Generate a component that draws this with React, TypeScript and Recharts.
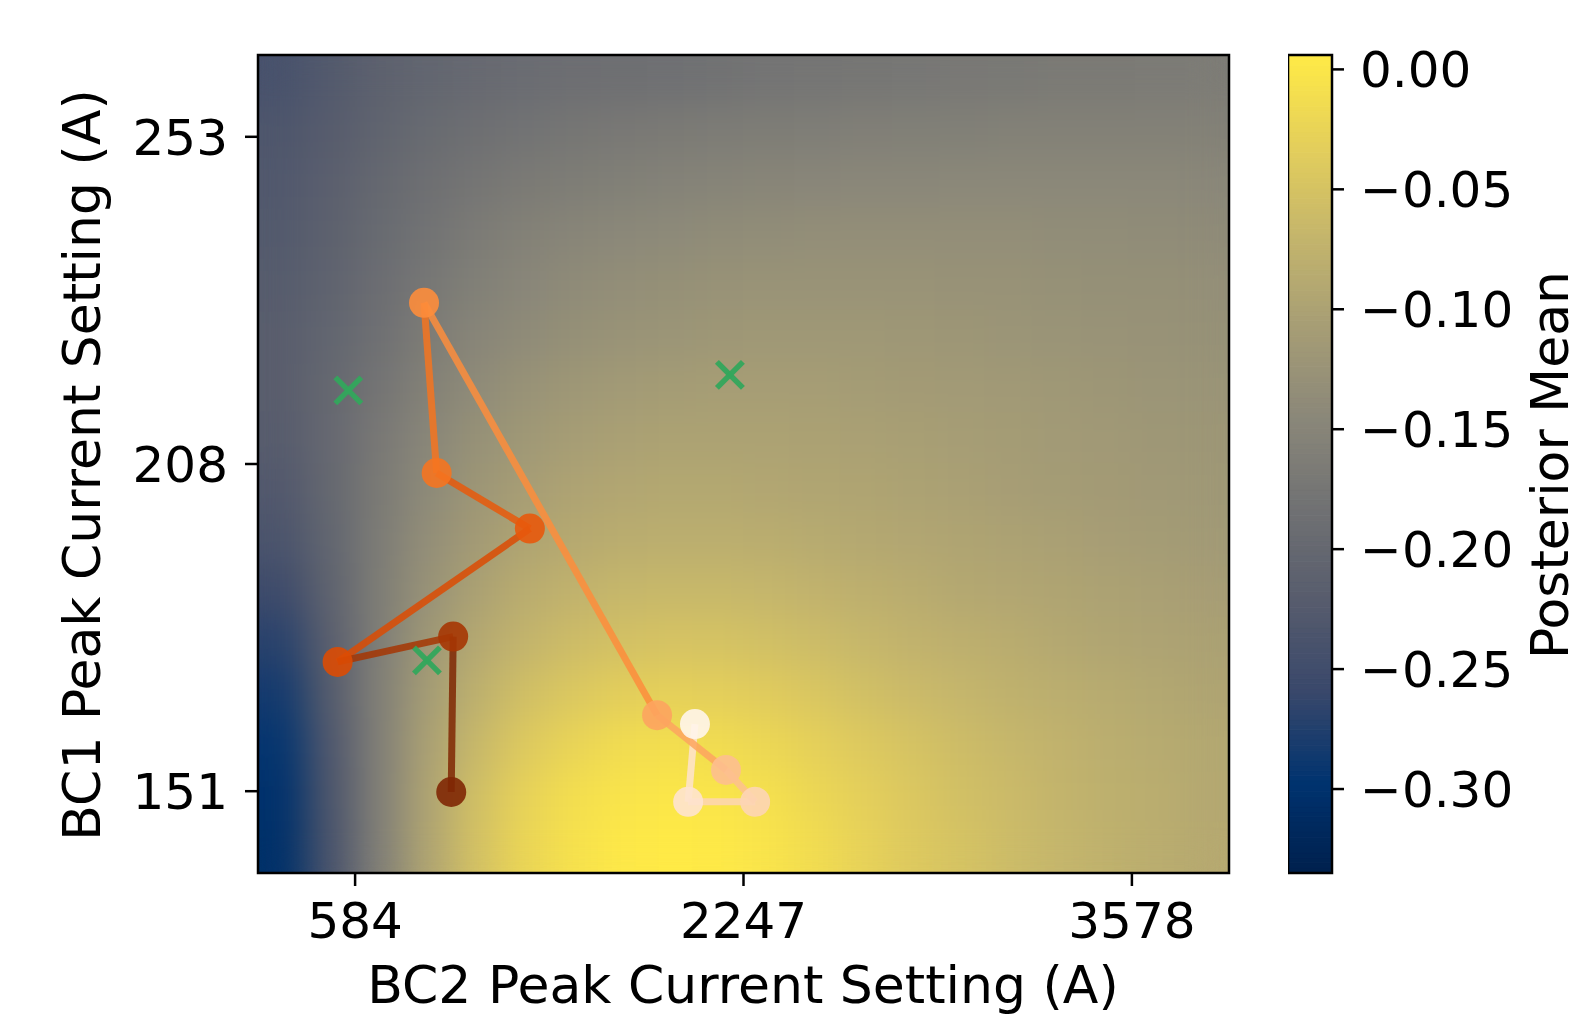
import React from 'react';
import { ComposedChart, XAxis, YAxis, Scatter, ReferenceArea } from 'recharts';

// ---------- data ----------
const xTickPositions = [0.1, 0.5, 0.9];
const xTickLabels = ['584', '2247', '3578'];
const yTickPositions = [0.1, 0.5, 0.9];
const yTickLabels = ['151', '208', '253'];

const colorbarTicks = [0, -0.05, -0.1, -0.15, -0.2, -0.25, -0.3];
const colorbarMin = -0.335;
const colorbarMax = 0.006;

// optimisation trajectory (normalised coordinates), in order of evaluation
const trajectoryX = [0.45, 0.443, 0.512, 0.482, 0.411, 0.171, 0.184, 0.28, 0.082, 0.201, 0.199];
const trajectoryY = [0.182, 0.087, 0.087, 0.126, 0.193, 0.697, 0.489, 0.421, 0.258, 0.289, 0.099];
const trajectoryColors = ['#fff5eb', '#fee3cf', '#fdd5b5', '#fdbf8f', '#fda45f', '#fd8d3c', '#f57420', '#e8590c', '#dc4b03', '#a63603', '#7f2704'];

// initial samples (green crosses)
const initialX = [0.093, 0.486, 0.174];
const initialY = [0.59, 0.609, 0.26];

// posterior mean on a 20 x 16 grid, top row first
const posteriorMean: number[][] = [
  [-0.240, -0.226, -0.212, -0.204, -0.197, -0.192, -0.188, -0.187, -0.185, -0.182, -0.178, -0.176, -0.175, -0.173, -0.171, -0.170, -0.168, -0.168, -0.166, -0.165],
  [-0.233, -0.221, -0.207, -0.195, -0.187, -0.180, -0.175, -0.171, -0.168, -0.165, -0.163, -0.161, -0.159, -0.158, -0.158, -0.156, -0.156, -0.156, -0.156, -0.156],
  [-0.229, -0.216, -0.200, -0.187, -0.176, -0.168, -0.163, -0.158, -0.154, -0.151, -0.149, -0.147, -0.146, -0.146, -0.144, -0.144, -0.144, -0.144, -0.144, -0.146],
  [-0.226, -0.212, -0.195, -0.180, -0.166, -0.156, -0.149, -0.144, -0.141, -0.137, -0.136, -0.134, -0.134, -0.134, -0.134, -0.134, -0.136, -0.136, -0.137, -0.139],
  [-0.222, -0.209, -0.190, -0.173, -0.158, -0.147, -0.139, -0.134, -0.130, -0.127, -0.125, -0.125, -0.125, -0.125, -0.127, -0.127, -0.129, -0.130, -0.130, -0.132],
  [-0.219, -0.204, -0.185, -0.165, -0.149, -0.139, -0.130, -0.125, -0.122, -0.118, -0.117, -0.117, -0.117, -0.118, -0.120, -0.122, -0.124, -0.125, -0.127, -0.129],
  [-0.219, -0.200, -0.178, -0.156, -0.139, -0.127, -0.118, -0.113, -0.110, -0.108, -0.108, -0.108, -0.110, -0.112, -0.113, -0.115, -0.117, -0.120, -0.122, -0.124],
  [-0.221, -0.199, -0.171, -0.147, -0.129, -0.117, -0.108, -0.103, -0.100, -0.100, -0.100, -0.101, -0.103, -0.105, -0.108, -0.110, -0.113, -0.115, -0.118, -0.120],
  [-0.228, -0.200, -0.168, -0.141, -0.120, -0.107, -0.098, -0.093, -0.091, -0.091, -0.093, -0.095, -0.096, -0.100, -0.103, -0.107, -0.110, -0.112, -0.115, -0.117],
  [-0.236, -0.204, -0.165, -0.134, -0.112, -0.096, -0.088, -0.083, -0.081, -0.081, -0.083, -0.086, -0.090, -0.093, -0.096, -0.100, -0.103, -0.107, -0.110, -0.113],
  [-0.253, -0.209, -0.163, -0.127, -0.101, -0.084, -0.074, -0.067, -0.066, -0.066, -0.069, -0.074, -0.079, -0.084, -0.090, -0.093, -0.096, -0.100, -0.103, -0.107],
  [-0.270, -0.216, -0.161, -0.118, -0.090, -0.071, -0.059, -0.052, -0.049, -0.050, -0.054, -0.060, -0.067, -0.074, -0.079, -0.084, -0.090, -0.095, -0.098, -0.101],
  [-0.284, -0.222, -0.159, -0.110, -0.078, -0.055, -0.042, -0.033, -0.030, -0.032, -0.037, -0.045, -0.054, -0.062, -0.069, -0.076, -0.081, -0.086, -0.091, -0.096],
  [-0.294, -0.229, -0.159, -0.103, -0.066, -0.040, -0.025, -0.014, -0.011, -0.013, -0.020, -0.030, -0.040, -0.050, -0.059, -0.067, -0.074, -0.081, -0.086, -0.091],
  [-0.301, -0.233, -0.159, -0.098, -0.055, -0.028, -0.011, -0.003, 0.001, -0.001, -0.008, -0.020, -0.032, -0.043, -0.054, -0.062, -0.071, -0.078, -0.083, -0.090],
  [-0.304, -0.236, -0.159, -0.096, -0.052, -0.023, -0.006, 0.003, 0.006, 0.004, -0.003, -0.014, -0.028, -0.040, -0.050, -0.060, -0.069, -0.076, -0.083, -0.088],
];

// ---------- styles ----------
const FONT = 'DejaVu Sans, Verdana, sans-serif';
const CIVIDIS = ['#00204D', '#00336F', '#39486B', '#575C6D', '#707173', '#8A8779', '#A69D75', '#C4B56C', '#E4CF5B', '#FFEA46'];

const hexToRgb = (h: string) => [parseInt(h.slice(1, 3), 16), parseInt(h.slice(3, 5), 16), parseInt(h.slice(5, 7), 16)];
const cividisAt = (tIn: number) => {
  const t = Math.max(0, Math.min(1, tIn));
  const s = t * (CIVIDIS.length - 1);
  const i = Math.min(CIVIDIS.length - 2, Math.floor(s));
  const f = s - i;
  const a = hexToRgb(CIVIDIS[i]);
  const b = hexToRgb(CIVIDIS[i + 1]);
  const c = a.map((av, k) => Math.round(av + (b[k] - av) * f));
  return `rgb(${c[0]},${c[1]},${c[2]})`;
};
const cividis = (v: number) => cividisAt((v - colorbarMin) / (colorbarMax - colorbarMin));

const nRows = posteriorMean.length;
const nCols = posteriorMean[0].length;
const cells = posteriorMean.flatMap((row, r) =>
  row.map((v, c) => ({
    x1: c / nCols,
    x2: (c + 1) / nCols,
    y1: 1 - (r + 1) / nRows,
    y2: 1 - r / nRows,
    v,
  }))
);

// colour-bar slices (the colour scale itself, split into thin bands)
const COLORBAR_STEPS = 160;
const colorbarSlices = Array.from({ length: COLORBAR_STEPS }, (_, i) => ({
  y1: colorbarMin + ((colorbarMax - colorbarMin) * i) / COLORBAR_STEPS,
  y2: colorbarMin + ((colorbarMax - colorbarMin) * (i + 1)) / COLORBAR_STEPS,
  color: cividisAt((i + 0.5) / COLORBAR_STEPS),
}));

const trajectory = trajectoryX.map((x, i) => ({ x, y: trajectoryY[i], step: i }));
const segments = trajectory.slice(1).map((p, i) => ({ data: [trajectory[i], p], color: trajectoryColors[i + 1] }));
const initialPoints = initialX.map((x, i) => ({ x, y: initialY[i] }));

const renderNothing = () => <g />;
const renderPoint = (props: any) => (
  <circle cx={props.cx} cy={props.cy} r={15} fill={trajectoryColors[props.payload.step]} fillOpacity={0.9} />
);
const renderCross = (props: any) => {
  const { cx, cy } = props;
  const h = 13;
  return (
    <g stroke="#33a65c" strokeWidth={5.5} strokeOpacity={0.95}>
      <line x1={cx - h} y1={cy - h} x2={cx + h} y2={cy + h} />
      <line x1={cx - h} y1={cy + h} x2={cx + h} y2={cy - h} />
    </g>
  );
};

const tickStyle = { fill: '#000', fontSize: 50, fontFamily: FONT };
const tickLineStyle = { stroke: '#000', strokeWidth: 2.5 };

export default function App() {
  return (
    <div style={{ position: 'absolute', left: 0, top: 0, width: 1569, height: 1017, background: '#fff', overflow: 'hidden' }}>
      <svg width={0} height={0} style={{ position: 'absolute' }}>
        <defs>
          <filter id="heatSmooth" x="0" y="0" width="1" height="1" colorInterpolationFilters="sRGB">
            <feGaussianBlur stdDeviation="18" />
            <feComponentTransfer>
              <feFuncA type="linear" slope="0" intercept="1" />
            </feComponentTransfer>
          </filter>
        </defs>
      </svg>

      {/* heatmap */}
      <div style={{ position: 'absolute', left: 258, top: 55, width: 971, height: 818, filter: 'url(#heatSmooth)' }}>
        <ComposedChart width={971} height={818} margin={{ top: 0, right: 0, bottom: 0, left: 0 }}>
          <XAxis type="number" dataKey="x" domain={[0, 1]} hide allowDataOverflow />
          <YAxis type="number" dataKey="y" domain={[0, 1]} hide allowDataOverflow />
          {cells.map((c, i) => (
            <ReferenceArea
              key={i}
              x1={c.x1}
              x2={c.x2}
              y1={c.y1}
              y2={c.y2}
              fill={cividis(c.v)}
              fillOpacity={1}
              stroke={cividis(c.v)}
              strokeWidth={1}
              ifOverflow="visible"
            />
          ))}
        </ComposedChart>
      </div>

      {/* colorbar */}
      <div style={{ position: 'absolute', left: 1288, top: 0 }}>
        <ComposedChart width={281} height={1017} margin={{ top: 55, right: 37, bottom: 144, left: 0 }}>
          <XAxis type="number" dataKey="x" domain={[0, 1]} hide allowDataOverflow />
          <YAxis
            type="number"
            dataKey="y"
            orientation="right"
            domain={[colorbarMin, colorbarMax]}
            ticks={colorbarTicks}
            interval={0}
            width={200}
            axisLine={false}
            tickLine={tickLineStyle}
            tickSize={12}
            tickMargin={16}
            tick={tickStyle}
            tickFormatter={(v: number) => (v === 0 ? '0.00' : '\u2212' + Math.abs(v).toFixed(2))}
            allowDataOverflow
          />
          {colorbarSlices.map((s, i) => (
            <ReferenceArea
              key={i}
              x1={0}
              x2={1}
              y1={s.y1}
              y2={s.y2}
              fill={s.color}
              fillOpacity={1}
              stroke={s.color}
              strokeWidth={1}
              ifOverflow="visible"
            />
          ))}
          <ReferenceArea
            x1={0}
            x2={1}
            y1={colorbarMin}
            y2={colorbarMax}
            fill="none"
            fillOpacity={0}
            stroke="#000"
            strokeWidth={2.5}
            ifOverflow="visible"
          />
        </ComposedChart>
      </div>

      {/* axes, trajectory, markers */}
      <div style={{ position: 'absolute', left: 0, top: 0 }}>
        <ComposedChart width={1569} height={1017} margin={{ top: 55, right: 340, bottom: 44, left: 158 }}>
          <XAxis
            type="number"
            dataKey="x"
            domain={[0, 1]}
            ticks={xTickPositions}
            interval={0}
            tickFormatter={(v: number) => xTickLabels[xTickPositions.indexOf(v)]}
            height={100}
            axisLine={false}
            tickLine={tickLineStyle}
            tickSize={13}
            tickMargin={16}
            tick={tickStyle}
            allowDataOverflow
          />
          <YAxis
            type="number"
            dataKey="y"
            domain={[0, 1]}
            ticks={yTickPositions}
            interval={0}
            tickFormatter={(v: number) => yTickLabels[yTickPositions.indexOf(v)]}
            width={100}
            axisLine={false}
            tickLine={tickLineStyle}
            tickSize={13}
            tickMargin={17}
            tick={tickStyle}
            allowDataOverflow
          />
          <ReferenceArea x1={0} x2={1} y1={0} y2={1} fill="none" fillOpacity={0} stroke="#000" strokeWidth={2.5} ifOverflow="visible" />
          {segments.map((s, i) => (
            <Scatter
              key={'seg' + i}
              data={s.data}
              fill={s.color}
              line={{ stroke: s.color, strokeWidth: 7, strokeOpacity: 0.85 }}
              shape={renderNothing}
              isAnimationActive={false}
            />
          ))}
          <Scatter data={trajectory} shape={renderPoint} isAnimationActive={false} />
          <Scatter data={initialPoints} shape={renderCross} isAnimationActive={false} />
          <text x={743} y={1003} textAnchor="middle" fontSize={52} fontFamily={FONT} fill="#000">
            BC2 Peak Current Setting (A)
          </text>
          <text x={100} y={465} transform="rotate(-90 100 465)" textAnchor="middle" fontSize={52} fontFamily={FONT} fill="#000">
            BC1 Peak Current Setting (A)
          </text>
          <text x={1568} y={465} transform="rotate(-90 1568 465)" textAnchor="middle" fontSize={52} fontFamily={FONT} fill="#000">
            Posterior Mean
          </text>
        </ComposedChart>
      </div>
    </div>
  );
}
